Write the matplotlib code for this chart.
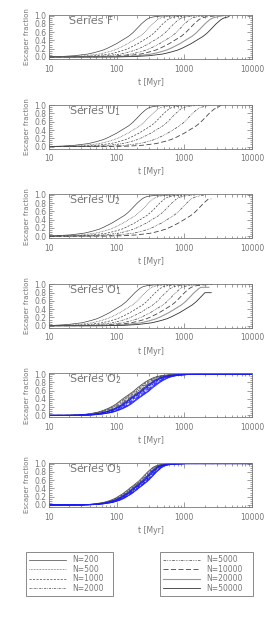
import matplotlib
matplotlib.use("Agg")
import matplotlib.pyplot as plt
from matplotlib.lines import Line2D
from matplotlib.ticker import FixedLocator, MultipleLocator, FuncFormatter, LogLocator

# ===== DATOS =====
n_labels = ["N=200", "N=500", "N=1000", "N=2000",
            "N=5000", "N=10000", "N=20000", "N=50000"]

# escaper fraction levels and the log-time offsets (from t50) where each is reached
prof_f = [0.0, 0.01, 0.02, 0.03, 0.05, 0.07, 0.10, 0.13, 0.17, 0.22,
          0.27, 0.32, 0.37, 0.42, 0.46, 0.50, 0.54, 0.58, 0.63, 0.68,
          0.74, 0.80, 0.85, 0.90, 0.93, 0.95, 0.97, 0.99, 1.0]
prof_dlog_fu = [-1.3, -1.0, -0.9, -0.8, -0.7, -0.6, -0.52, -0.45, -0.37, -0.3,
                -0.24, -0.18, -0.13, -0.08, -0.04, 0.0, 0.03, 0.06, 0.09, 0.12,
                0.155, 0.19, 0.225, 0.26, 0.29, 0.32, 0.37, 0.48, 0.7]
prof_dlog_o2 = [-0.95, -0.75, -0.68, -0.62, -0.54, -0.47, -0.41, -0.36, -0.3, -0.24,
                -0.19, -0.15, -0.11, -0.07, -0.035, 0.0, 0.035, 0.07, 0.105, 0.14,
                0.19, 0.24, 0.29, 0.35, 0.4, 0.45, 0.52, 0.68, 1.0]
prof_dlog_o3 = [-0.9, -0.7, -0.64, -0.58, -0.5, -0.44, -0.38, -0.33, -0.28, -0.23,
                -0.18, -0.14, -0.1, -0.065, -0.03, 0.0, 0.03, 0.06, 0.09, 0.12,
                0.155, 0.19, 0.225, 0.26, 0.29, 0.32, 0.36, 0.45, 0.65]

# Series F
f_t50 = [150, 220, 310, 450, 650, 900, 1300, 1900]
f_tend = [900, 1100, 1400, 1900, 2500, 3000, 3800, 4700]
# Series U1
u1_t50 = [150, 220, 320, 480, 850, 1500]
u1_tend = [800, 1000, 1300, 1800, 2400, 3500]
# Series U2
u2_t50 = [130, 190, 280, 420, 700, 1250]
u2_tend = [700, 900, 1100, 1500, 2000, 2500]
u2_fend = [1.0, 1.0, 1.0, 1.0, 1.0, 0.9]
# Series O1
o1_t50 = [120, 170, 240, 340, 480, 650, 900, 1300]
o1_tend = [700, 1000, 1300, 1800, 2300, 2600, 2300, 2500]
o1_fend = [1.0, 1.0, 1.0, 1.0, 1.0, 1.0, 0.93, 0.8]
# Series O2 (black and blue runs)
o2_t50 = [150, 155, 160, 168, 175, 183, 190, 200]
o2_t50_blue = [190, 198, 206, 214, 222, 232, 242, 252]
# Series O3 (black and blue runs)
o3_t50 = [185, 190, 195, 200, 205, 210, 215, 220]
o3_t50_blue = [210, 216, 222, 228, 234, 240, 246, 252]

# ===== ESTILOS =====
styles = [
    dict(ls="-", lw=0.5, color="#444444"),
    dict(ls=(0, (1, 1.2)), lw=0.5, color="#444444"),
    dict(ls=(0, (3, 2)), lw=0.5, color="#444444"),
    dict(ls=(0, (3, 1.5, 1, 1.5)), lw=0.5, color="#444444"),
    dict(ls=(0, (4, 1.5, 1, 1.2, 1, 1.2, 1, 1.5)), lw=0.5, color="#444444"),
    dict(ls=(0, (6, 3)), lw=0.6, color="#444444"),
    dict(ls="-", lw=0.8, color="#999999"),
    dict(ls="-", lw=0.6, color="#333333"),
]
gray = "#777777"


def curve(t50, dlog, tend=10000.0, fend=1.0):
    t = [10.0]
    f = [0.0]
    for d, v in zip(dlog, prof_f):
        tt = t50 * 10 ** d
        if tt <= 10 or tt >= tend or v > fend:
            continue
        t.append(tt)
        f.append(v)
    if t[-1] < tend:
        t.append(tend)
        f.append(fend)
    return t, f


W, H = 269, 628
fig = plt.figure(figsize=(W / 100, H / 100), dpi=100)

panels = [
    ("Series F", f_t50, f_tend, None, prof_dlog_fu, None),
    ("Series U$_1$", u1_t50, u1_tend, None, prof_dlog_fu, None),
    ("Series U$_2$", u2_t50, u2_tend, u2_fend, prof_dlog_fu, None),
    ("Series O$_1$", o1_t50, o1_tend, o1_fend, prof_dlog_fu, None),
    ("Series O$_2$", o2_t50, None, None, prof_dlog_o2, o2_t50_blue),
    ("Series O$_3$", o3_t50, None, None, prof_dlog_o3, o3_t50_blue),
]

tops = [15, 104.6, 194.2, 283.8, 373.4, 463]
ax_h = 44
ax_l, ax_w = 49, 203

for (title, t50s, tends, fends, dlog, blue), top in zip(panels, tops):
    ax = fig.add_axes([ax_l / W, 1 - (top + ax_h) / H, ax_w / W, ax_h / H])
    for i, t50 in enumerate(t50s):
        tend = tends[i] if tends else 10000.0
        fend = fends[i] if fends else 1.0
        t, f = curve(t50, dlog, tend, fend)
        ax.plot(t, f, **styles[i])
    if blue:
        for i, t50 in enumerate(blue):
            t, f = curve(t50, dlog)
            st = dict(styles[i])
            st["color"] = "#1a1aff"
            st["lw"] = 0.6
            ax.plot(t, f, **st)

    ax.set_xscale("log")
    ax.set_xlim(10, 10000)
    ax.set_ylim(-0.05, 1.015)
    ax.xaxis.set_major_locator(FixedLocator([10, 100, 1000, 10000]))
    ax.xaxis.set_minor_locator(LogLocator(base=10, subs=range(2, 10)))
    ax.xaxis.set_major_formatter(FuncFormatter(lambda v, p: "%d" % v))
    ax.yaxis.set_major_locator(MultipleLocator(0.2))
    ax.yaxis.set_minor_locator(MultipleLocator(0.05))
    ax.yaxis.set_major_formatter(FuncFormatter(lambda v, p: "%.1f" % v))
    ax.tick_params(which="both", direction="in", top=True, right=True,
                   colors=gray, labelsize=5.5, width=0.5)
    ax.tick_params(which="major", length=3.5)
    ax.tick_params(which="minor", length=1.8)
    ax.tick_params(axis="x", pad=4)
    ax.tick_params(axis="y", pad=2)
    for sp in ax.spines.values():
        sp.set_color(gray)
        sp.set_linewidth(0.6)
    ax.set_xlabel("t [Myr]", fontsize=5.5, color=gray, labelpad=3)
    ax.set_ylabel("Escaper fraction", fontsize=5, color=gray, labelpad=3)
    ax.text(0.1, 0.86, title, transform=ax.transAxes, fontsize=8,
            color=gray, va="center", ha="left")

# ===== LEYENDA =====
handles = [Line2D([], [], **st) for st in styles]
for k, (x0, x1) in enumerate([(26, 113), (160, 253)]):
    leg = fig.legend(handles[4 * k:4 * k + 4], n_labels[4 * k:4 * k + 4],
                     loc="upper left", mode="expand",
                     bbox_to_anchor=(x0 / W, 1 - 592 / H, (x1 - x0) / W, 40 / H),
                     fontsize=5.5, handlelength=4.8, handletextpad=0.8,
                     labelspacing=0.05, borderpad=0.45, fancybox=False,
                     framealpha=1, edgecolor=gray, borderaxespad=0)
    leg.get_frame().set_linewidth(0.6)
    for txt in leg.get_texts():
        txt.set_color(gray)

fig.savefig("out.png", dpi=100)
